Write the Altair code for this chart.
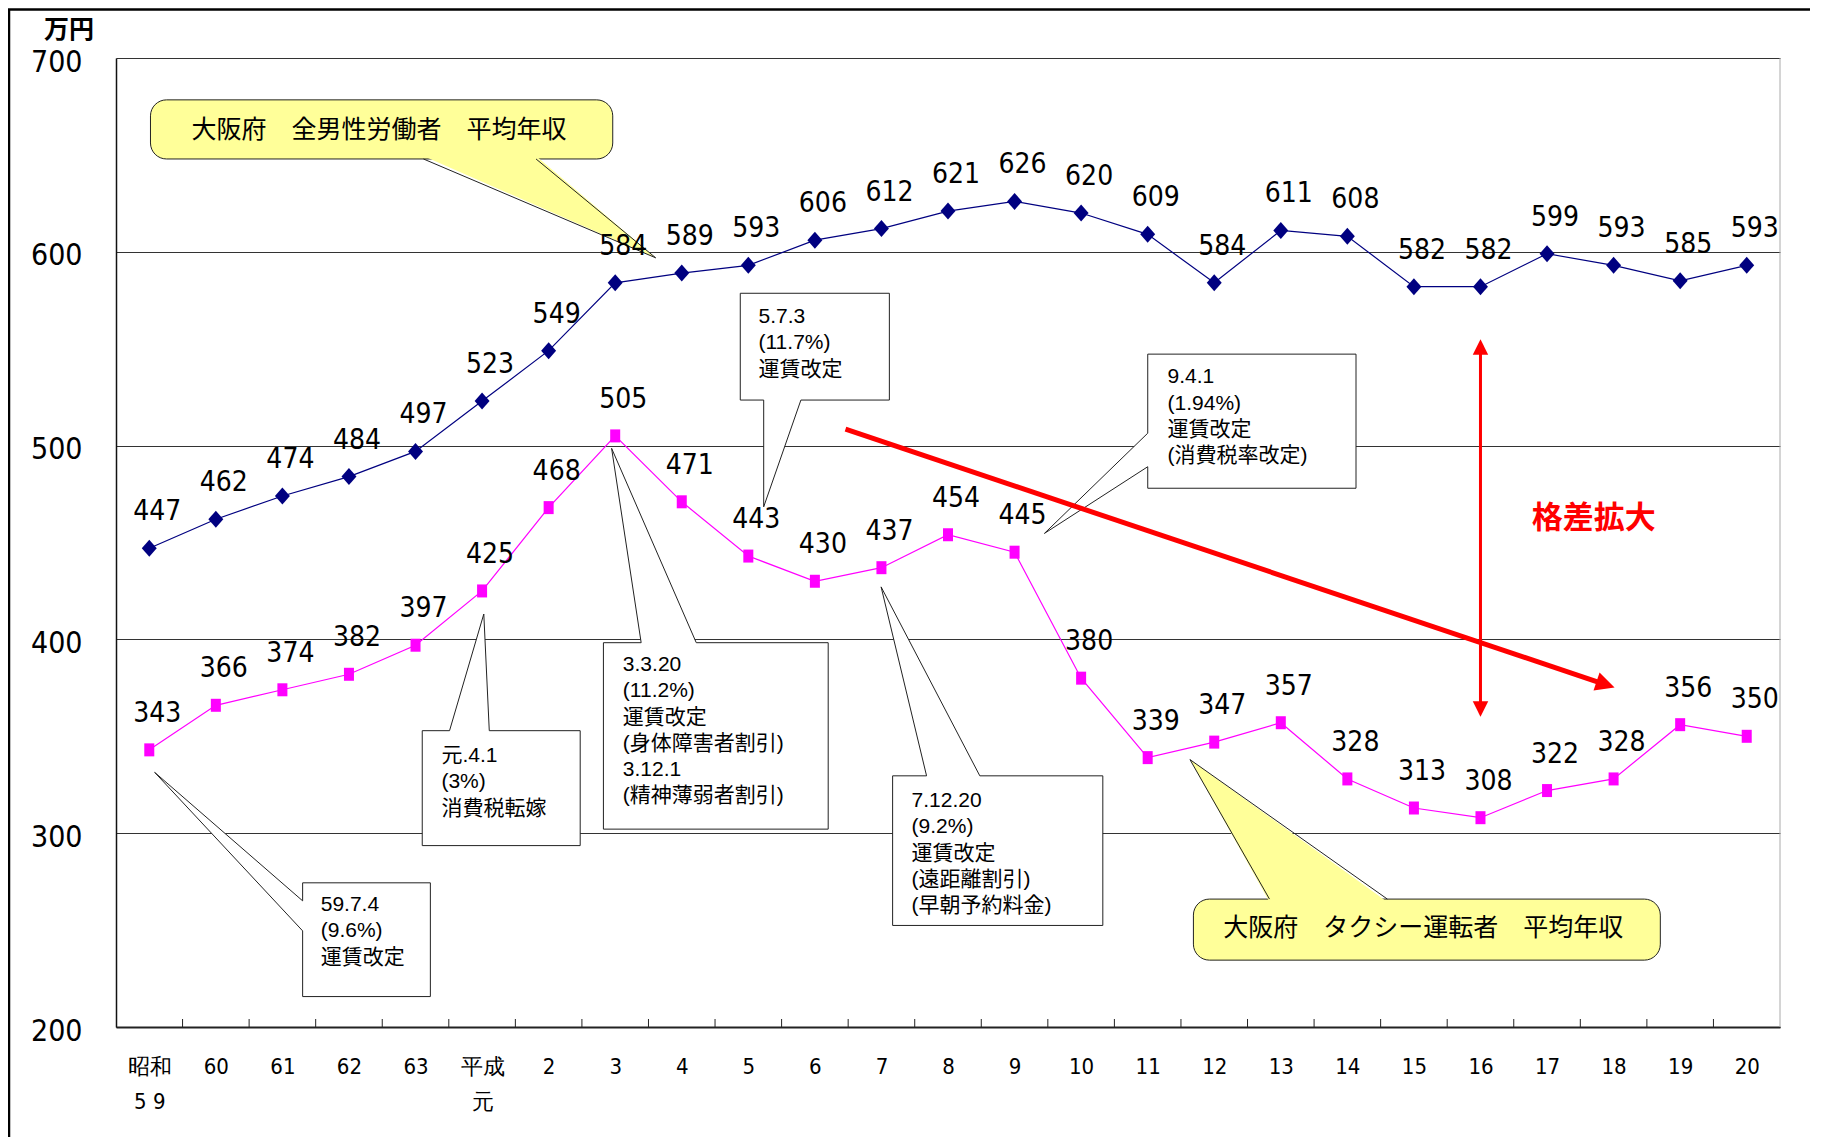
import json
import altair as alt
import pandas as pd

# ---------------- data ----------------
CAT1 = ["昭和", "60", "61", "62", "63", "平成", "2", "3", "4", "5", "6", "7", "8", "9",
        "10", "11", "12", "13", "14", "15", "16", "17", "18", "19", "20"]
CAT2 = ["5 9", "", "", "", "", "元", "", "", "", "", "", "", "", "",
        "", "", "", "", "", "", "", "", "", "", ""]
MEN = [447, 462, 474, 484, 497, 523, 549, 584, 589, 593, 606, 612, 621, 626, 620,
       609, 584, 611, 608, 582, 582, 599, 593, 585, 593]
TAXI = [343, 366, 374, 382, 397, 425, 468, 505, 471, 443, 430, 437, 454, 445, 380,
        339, 347, 357, 328, 313, 308, 322, 328, 356, 350]
Y_TICKS = [200, 300, 400, 500, 600, 700]
UNIT = "万円"
GAP_TEXT = "格差拡大"

# annotation callouts (data units: x = category index, y = 万円)
BOXES = [
    dict(lines=["59.7.4", "(9.6%)", "運賃改定"],
         x0=2.304, x1=4.223, y0=215.7, y1=274.4, edge="left", b=(249.6, 265.1),
         tip=(0.081, 331.4), tx=2.576, ty=262.9),
    dict(lines=["元.4.1", "(3%)", "消費税転嫁"],
         x0=4.101, x1=6.474, y0=293.6, y1=352.9, edge="top", b=(4.511, 5.108),
         tip=(5.026, 413.1), tx=4.389, ty=339.8),
    dict(lines=["3.3.20", "(11.2%)", "運賃改定", "(身体障害者割引)", "3.12.1", "(精神薄弱者割引)"],
         x0=6.823, x1=10.200, y0=302.1, y1=398.3, edge="top", b=(7.390, 8.218),
         tip=(6.946, 498.6), tx=7.115, ty=386.8),
    dict(lines=["5.7.3", "(11.7%)", "運賃改定"],
         x0=8.879, x1=11.119, y0=523.5, y1=578.6, edge="bottom", b=(9.231, 9.790),
         tip=(9.231, 468.4), tx=9.153, ty=566.3),
    dict(lines=["9.4.1", "(1.94%)", "運賃改定", "(消費税率改定)"],
         x0=15.001, x1=18.130, y0=478.0, y1=547.2, edge="left", b=(489.1, 506.4),
         tip=(13.449, 454.7), tx=15.298, ty=535.2),
    dict(lines=["7.12.20", "(9.2%)", "運賃改定", "(遠距離割引)", "(早朝予約料金)"],
         x0=11.168, x1=14.326, y0=252.4, y1=329.6, edge="top", b=(11.678, 12.478),
         tip=(10.995, 427.1), tx=11.452, ty=316.6),
]
YELLOW = [
    dict(text="大阪府　全男性労働者　平均年収", x0=0.018, x1=6.963, y0=647.9, y1=678.4,
         edge="bottom", b=(4.119, 5.811), tip=(7.608, 596.9), tx=3.45, ty=663.0),
    dict(text="大阪府　タクシー運転者　平均年収", x0=15.687, x1=22.702, y0=234.5, y1=266.0,
         edge="top", b=(16.830, 18.601), tip=(15.635, 338.0), tx=19.14, ty=251.0),
]
TREND = dict(start=(10.460, 508.5), head=(21.879, 376.7), angle=18.6)
GAP = dict(x=20, top=550.9, bottom=364.1, tx=21.70, ty=461.9)

# ---------------- layout / style ----------------
W, H = 1664, 969
NARROW = "Liberation Sans Narrow, Arial Narrow, DejaVu Sans Condensed, sans-serif"
SANS = "Liberation Sans, Arial, Noto Sans CJK JP, sans-serif"
CJK = "Noto Sans CJK JP, sans-serif"
NAVY, MAG, RED, YEL = "#000080", "#FF00FF", "#FF0000", "#FFFF99"
LH = 26.3 * (Y_TICKS[-1] - Y_TICKS[0]) / H  # line height in data units

xs = alt.Scale(domain=[-0.5, len(CAT1) - 0.5], nice=False, zero=False)
ys = alt.Scale(domain=[Y_TICKS[0], Y_TICKS[-1]], nice=False, zero=False)
label_js = json.dumps([[a, b] if b else [a] for a, b in zip(CAT1, CAT2)], ensure_ascii=False)

XAX = alt.Axis(values=list(range(len(CAT1))), labelExpr=f"{label_js}[datum.value]",
               ticks=False, grid=False, domainColor="#222", domainWidth=2,
               labelFont=NARROW, labelFontSize=22, labelColor="black", labelPadding=29,
               labelLineHeight=35, labelBaseline="top", labelOverlap=False,
               labelFlush=False, title=None)
YAX = alt.Axis(values=Y_TICKS, grid=True, gridColor="#333", gridWidth=1, ticks=False,
               domainColor="#111", domainWidth=1.5, labelFont=NARROW, labelFontSize=30,
               labelColor="black", labelPadding=34, labelOffset=4, labelFlush=False,
               title=None)


def X(f="i"):
    return alt.X(f"{f}:Q", scale=xs, axis=XAX)


def Y(f="v"):
    return alt.Y(f"{f}:Q", scale=ys, axis=YAX)


def outline(b):
    x0, x1, y0, y1 = b["x0"], b["x1"], b["y0"], b["y1"]
    p, q = sorted(b["b"])
    tx, ty = b["tip"]
    if b["edge"] == "left":
        return [(x0, y1), (x1, y1), (x1, y0), (x0, y0), (x0, p), (tx, ty), (x0, q), (x0, y1)]
    if b["edge"] == "top":
        return [(x0, y1), (p, y1), (tx, ty), (q, y1), (x1, y1), (x1, y0), (x0, y0), (x0, y1)]
    return [(x0, y1), (x1, y1), (x1, y0), (q, y0), (tx, ty), (p, y0), (x0, y0), (x0, y1)]


# polygons for white callouts
poly_rows, text_rows = [], []
for g, b in enumerate(BOXES):
    for k, (px, py) in enumerate(outline(b)):
        poly_rows.append({"g": g, "o": k, "i": px, "v": py})
    for k, line in enumerate(b["lines"]):
        text_rows.append({"i": b["tx"], "v": b["ty"] - k * LH, "t": line})
poly_df = pd.DataFrame(poly_rows)
btext_df = pd.DataFrame(text_rows)

# yellow callouts
yb_rows, wf_rows, ws_rows, yt_rows = [], [], [], []
for g, c in enumerate(YELLOW):
    yb_rows.append({"i": c["x0"], "i2": c["x1"], "v": c["y0"], "v2": c["y1"]})
    p, q = sorted(c["b"])
    tx, ty = c["tip"]
    base = c["y0"] if c["edge"] == "bottom" else c["y1"]
    inner = base + 1.5 if c["edge"] == "bottom" else base - 1.5
    for k, (px, py) in enumerate([(p, inner), (tx, ty), (q, inner), (p, inner)]):
        wf_rows.append({"g": g, "o": k, "i": px, "v": py})
    for k, (px, py) in enumerate([(p, base), (tx, ty), (q, base)]):
        ws_rows.append({"g": g, "o": k, "i": px, "v": py})
    yt_rows.append({"i": c["tx"], "v": c["ty"], "t": c["text"]})

series = pd.DataFrame({"i": list(range(len(CAT1))), "men": MEN, "taxi": TAXI})
bounds = pd.DataFrame({"i": [k + 0.5 for k in range(len(CAT1) - 1)]})
one = pd.DataFrame({"a": [0]})

layers = []

# decorations: outer frame, right border, inner ticks
layers.append(alt.Chart(one).mark_rule(color="black", strokeWidth=2.5).encode(
    x=alt.value(-107), y=alt.value(-49), y2=alt.value(H + 160)))
layers.append(alt.Chart(one).mark_rule(color="black", strokeWidth=2.5).encode(
    x=alt.value(-108), x2=alt.value(W + 80), y=alt.value(-48.5)))
layers.append(alt.Chart(one).mark_rule(color="#aaaaaa", strokeWidth=1).encode(
    x=alt.value(W), y=alt.value(0), y2=alt.value(H)))
layers.append(alt.Chart(bounds).mark_rule(color="#222", strokeWidth=1).encode(
    x=X(), y=alt.value(H), y2=alt.value(H - 8)))

# white callout boxes
layers.append(alt.Chart(poly_df).mark_line(fill="white", stroke="#222", strokeWidth=1,
                                           strokeJoin="miter").encode(
    x=X(), y=Y(), detail="g:N", order="o:Q"))
layers.append(alt.Chart(btext_df).mark_text(font=SANS, fontSize=21, align="left",
                                            baseline="middle", color="black").encode(
    x=X(), y=Y(), text="t:N"))

# series
layers.append(alt.Chart(series).mark_line(color=NAVY, strokeWidth=1.2).encode(
    x=X(), y=Y("men")))
layers.append(alt.Chart(series).mark_line(color=MAG, strokeWidth=1.2).encode(
    x=X(), y=Y("taxi")))
layers.append(alt.Chart(series).mark_point(
    shape="M0,-1L0.88,0L0,1L-0.88,0Z", size=289, filled=True, opacity=1, color=NAVY).encode(
    x=X(), y=Y("men")))
layers.append(alt.Chart(series).mark_point(
    shape="M-0.77,-1L0.77,-1L0.77,1L-0.77,1Z", size=169, filled=True, opacity=1, color=MAG).encode(
    x=X(), y=Y("taxi")))

# yellow callouts
layers.append(alt.Chart(pd.DataFrame(yb_rows)).mark_rect(
    fill=YEL, stroke="#222", strokeWidth=1, cornerRadius=16).encode(
    x=X(), x2="i2:Q", y=Y(), y2="v2:Q"))
layers.append(alt.Chart(pd.DataFrame(wf_rows)).mark_line(
    fill=YEL, stroke=YEL, strokeOpacity=0, strokeWidth=0).encode(
    x=X(), y=Y(), detail="g:N", order="o:Q"))
layers.append(alt.Chart(pd.DataFrame(ws_rows)).mark_line(
    stroke="#222", strokeWidth=1, strokeJoin="miter").encode(
    x=X(), y=Y(), detail="g:N", order="o:Q"))
layers.append(alt.Chart(pd.DataFrame(yt_rows)).mark_text(
    font=CJK, fontSize=25, color="black").encode(x=X(), y=Y(), text="t:N"))

# value labels
layers.append(alt.Chart(series).mark_text(font=NARROW, fontSize=28, dx=8, dy=-36,
                                          color="black").encode(
    x=X(), y=Y("men"), text="men:Q"))
layers.append(alt.Chart(series).mark_text(font=NARROW, fontSize=28, dx=8, dy=-36,
                                          color="black").encode(
    x=X(), y=Y("taxi"), text="taxi:Q"))

# red annotations
trend_df = pd.DataFrame({"i": [TREND["start"][0], TREND["head"][0]],
                         "v": [TREND["start"][1], TREND["head"][1]], "o": [0, 1]})
layers.append(alt.Chart(trend_df).mark_line(color=RED, strokeWidth=5).encode(
    x=X(), y=Y(), order="o:Q"))
layers.append(alt.Chart(pd.DataFrame({"i": [TREND["head"][0]], "v": [TREND["head"][1]]})).mark_point(
    shape="M1,0L-1,-1L-1,1Z", size=361, filled=True, opacity=1, color=RED,
    angle=TREND["angle"]).encode(x=X(), y=Y()))
gap_df = pd.DataFrame({"i": [GAP["x"], GAP["x"]], "v": [GAP["bottom"], GAP["top"]], "o": [0, 1]})
layers.append(alt.Chart(gap_df).mark_line(color=RED, strokeWidth=3).encode(
    x=X(), y=Y(), order="o:Q"))
layers.append(alt.Chart(pd.DataFrame({"i": [GAP["x"]], "v": [GAP["top"]]})).mark_point(
    shape="M0,-1L1,1L-1,1Z", size=240, filled=True, opacity=1, color=RED).encode(
    x=X(), y=Y()))
layers.append(alt.Chart(pd.DataFrame({"i": [GAP["x"]], "v": [GAP["bottom"]]})).mark_point(
    shape="M0,1L1,-1L-1,-1Z", size=240, filled=True, opacity=1, color=RED).encode(
    x=X(), y=Y()))
layers.append(alt.Chart(pd.DataFrame({"i": [GAP["tx"]], "v": [GAP["ty"]], "t": [GAP_TEXT]})).mark_text(
    font=CJK, fontSize=31, fontWeight="bold", color=RED).encode(x=X(), y=Y(), text="t:N"))

# unit label
layers.append(alt.Chart(pd.DataFrame({"t": [UNIT]})).mark_text(
    font=CJK, fontSize=25, fontWeight="bold", color="black").encode(
    x=alt.value(-47), y=alt.value(-28), text="t:N"))

chart = alt.layer(*layers).properties(
    width=W, height=H,
    padding={"left": 108, "top": 50, "right": 30, "bottom": 110},
    autosize=alt.AutoSizeParams(type="none"),
    background="white",
).configure_view(stroke=None)

chart.save("out.html", embed_options={"renderer": "svg", "actions": False})
